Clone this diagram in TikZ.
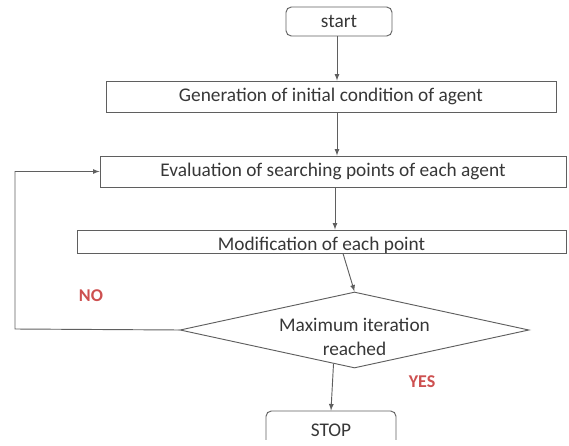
\documentclass[tikz,border=0pt]{standalone}
\usepackage{fontspec}
\setmainfont{Carlito}
\usetikzlibrary{shapes.geometric,calc}

\definecolor{linegray}{RGB}{95,95,95}
\definecolor{textgray}{RGB}{55,55,55}
\definecolor{answerred}{RGB}{205,80,80}

\tikzset{every picture/.style={line width=0.75pt}}
\tikzset{
  stepbox/.style={draw=linegray, line width=0.7pt, inner sep=0pt,
                  font=\fontsize{14.5}{18}\selectfont, text=textgray},
  termbox/.style={stepbox, rounded corners=4pt},
  decision/.style={stepbox, diamond, aspect=4.6, align=center, inner sep=-8pt,
                   text height=37.5pt, text depth=0pt},
  flow/.style={->, >=latex, draw=linegray, line width=0.7pt},
  answer/.style={text=answerred, font=\fontsize{13.5}{16}\selectfont\bfseries}
}

\begin{document}
\begin{tikzpicture}[x=0.75pt, y=0.75pt, yscale=-1, xscale=1]

    \useasboundingbox (0,0) rectangle (569,446);

    % boxes
    \node (start) at (339,21.5)   [termbox, minimum width=79.5pt, minimum height=21.75pt] {start};
    \node (gen)   at (331,96.5)   [stepbox, minimum width=337.5pt, minimum height=23.25pt] {Generation of initial condition of agent};
    \node (eval)  at (333,171.5)  [stepbox, minimum width=349.5pt, minimum height=23.25pt] {Evaluation of searching points of each agent};
    \node (mod)   at (321.5,241.5) [stepbox, minimum width=366.75pt, minimum height=17.25pt,
                                   text height=14pt, text depth=0pt] {Modification of each point};
    \node (check) at (354.5,330)  [decision, minimum width=261.75pt, minimum height=57pt] {Maximum iteration\\reached};

    \begin{scope}
      \clip (0,0) rectangle (569,439);
      \node (stop) at (331,430) [termbox, minimum width=97.5pt, minimum height=28.5pt] {STOP};
    \end{scope}

    \node (no)  at (91,296)  [answer] {NO};
    \node (yes) at (422,382) [answer] {YES};

    \coordinate (loopcorner) at (15,329);

    % arrows
    \draw [flow] ([xshift=-1.5pt]start.south) -- ([xshift=-1.5pt]start.south |- gen.north);
    \draw [flow] ([xshift=-1.5pt]gen.south -| start.south) -- ([xshift=-1.5pt]eval.north -| start.south);
    \draw [flow] ([xshift=-3pt]eval.south -| start.south) -- ([xshift=-3pt]mod.north -| start.south);
    \draw [flow] ($(mod.south)+(21.5,0)$) -- (check.north);
    \draw [flow] ($(check.south)!0.12!(check.west)$) -- (stop.north);
    \draw [flow] (check.west) -- (loopcorner) |- (eval.west);

\end{tikzpicture}
\end{document}
